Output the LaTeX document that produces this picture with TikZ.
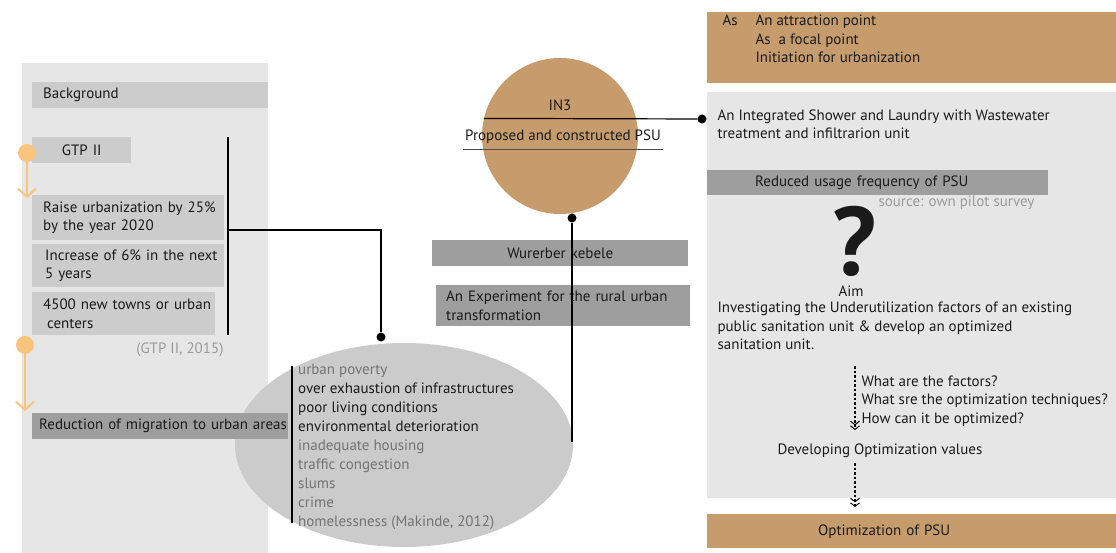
\documentclass[tikz,border=0pt]{standalone}
\usepackage{fontspec}
\setmainfont{PT Sans}
\usetikzlibrary{arrows.meta,shapes.geometric}
\definecolor{panelgrey}{HTML}{E6E6E6}
\definecolor{bargrey}{HTML}{CCCCCC}
\definecolor{deepgrey}{HTML}{9E9E9E}
\definecolor{ovalgrey}{HTML}{CBCBCB}
\definecolor{sand}{HTML}{C69C6D}
\definecolor{marigold}{HTML}{F8C47E}
\definecolor{softtext}{HTML}{737373}
\definecolor{paletext}{HTML}{9A9A9A}
\definecolor{inktext}{HTML}{1A1A1A}
\begin{document}
\begin{tikzpicture}[
	x=1pt, y=-1pt,
	every node/.style={font=\fontsize{15}{18.5}\selectfont, text=inktext},
	bar/.style={fill=bargrey, inner sep=0pt, anchor=north west, align=left},
	deepbar/.style={bar, fill=deepgrey},
	block/.style={inner sep=0pt, anchor=north west},
	dot/.style={circle, fill=black, inner sep=0pt, minimum size=9pt},
	sundot/.style={circle, fill=marigold, inner sep=0pt, minimum size=18pt},
	sunarrow/.style={draw=marigold, line width=2pt,
	-{Straight Barb[length=8pt,width=18pt,line width=2pt]}},
	flow/.style={draw=black, line width=1.1pt, dash pattern=on 2.5pt off 2pt,
	-{Straight Barb[length=3.5pt,width=9pt,line width=1pt]
	Straight Barb[length=3.5pt,width=9pt,line width=1pt]}},
	wire/.style={draw=black, line width=1.2pt},
	]
	\useasboundingbox (0,0) rectangle (1116,553);
	% left column
	\node[block, fill=panelgrey, minimum width=246pt, minimum height=490pt] (left panel) at (22,63) {};
	\node[bar, text width=236pt, minimum height=26pt] (background) at (32,82) {\hspace*{11pt}Background};
	\node[bar, align=center, text width=99pt, minimum height=26pt] (gtp) at (32,137) {GTP II};
	\node[bar, text width=192pt, minimum height=45pt] (raise) at (32,195) {\hspace*{11pt}Raise urbanization by 25\%\\\hspace*{11pt}by the year 2020};
	\node[bar, text width=192pt, minimum height=43pt] (increase) at (32,244) {\hspace*{13pt}Increase of 6\% in the next\\\hspace*{13pt}5 years};
	\node[bar, text width=183pt, minimum height=43pt] (towns) at (32,292) {\hspace*{11pt}4500 new towns or urban\\\hspace*{15pt}centers};
	\node[anchor=east, text=paletext] (gtp ref) at (227,350) {(GTP II, 2015)};
	\node[sundot] (sun one) at (27,153) {};
	\coordinate (sun one end) at (27,198);
	\draw[sunarrow] (sun one) -- (sun one end);
	\node[sundot] (sun two) at (25,345) {};
	\coordinate (sun two end) at (25,411);
	\draw[sunarrow] (sun two) -- (sun two end);
	% problems oval
	\node[ellipse, fill=ovalgrey, inner sep=0pt, minimum width=338pt, minimum height=204pt] (problems) at (404,445) {};
	\node[deepbar, text width=256pt, minimum height=26pt] (reduction) at (32,413) {\hspace*{7pt}Reduction of migration to urban areas};
	\coordinate (list top) at (292,366);
	\coordinate (list bottom) at (292,523);
	\draw[wire] (list top) -- (list bottom);
	\foreach \issue/\tone [count=\i from 0] in {urban poverty/softtext,
		over exhaustion of infrastructures/inktext, poor living conditions/inktext,
		environmental deterioration/inktext, inadequate housing/softtext,
		traffic congestion/softtext, slums/softtext, crime/softtext,
		{homelessness (Makinde, 2012)}/softtext}
	\node[anchor=base west, inner sep=0pt, text=\tone] (issue \i) at (298,374+19*\i) {\issue};
	% GTP spine
	\coordinate (spine top) at (228,137);
	\coordinate (spine bottom) at (228,335);
	\coordinate (spine mid) at (228,230);
	\draw[wire] (spine top) -- (spine bottom);
	\node[dot] (problems dot) at (381,337) {};
	\draw[wire] (spine mid) -| (problems dot);
	% PSU circle
	\node[circle, fill=sand, inner sep=0pt, minimum size=156pt] (psu) at (560,136) {};
	\node (in3) at (560,105) {IN3};
	\node (proposed) at (563,137) {Proposed and constructed PSU};
	\coordinate (under left) at (463,149);
	\coordinate (under right) at (663,149);
	\draw[draw=black!70, line width=0.9pt] (under left) -- (under right);
	\node[dot] (shower dot) at (702,119) {};
	\draw[wire] (psu.167.4) -- (shower dot);
	\node[deepbar, align=center, text width=256pt, minimum height=26pt] (kebele) at (432,240) {Wurerber kebele};
	\node[deepbar, text width=254pt, minimum height=41pt] (experiment) at (436,285) {\hspace*{10pt}An Experiment for the rural urban\\\hspace*{10pt}transformation};
	\node[dot] (psu dot) at (572,218) {};
	\coordinate (experiment end) at (572,442);
	\draw[wire] (psu dot) -- (experiment end);
	% right column
	\node[block, fill=sand, minimum width=409pt, minimum height=71pt] (roles) at (707,12) {};
	\node[anchor=west] (as) at (719,20) {As};
	\node[anchor=west, align=left] (role list) at (752,39) {An attraction point\\As\ \ a focal point\\Initiation for urbanization};
	\node[block, fill=panelgrey, minimum width=409pt, minimum height=406pt] (right panel) at (707,92) {};
	\node[anchor=west, align=left] (shower) at (714,124.5) {An Integrated Shower and Laundry with Wastewater\\treatment and infiltrarion unit};
	\node[deepbar, text width=341pt, minimum height=25pt] (reduced) at (707,170) {\hspace*{48pt}Reduced usage frequency of PSU};
	\node[anchor=west, text=paletext] (source) at (875,203) {source: own pilot survey};
	\node[font=\fontsize{97}{97}\selectfont\bfseries, inner sep=0pt, text depth=0pt, anchor=base] (query) at (855,276) {?};
	\node[inner sep=0pt, anchor=base] (aim) at (851,297) {Aim};
	\node[anchor=west, align=left] (aim text) at (714,326) {Investigating the Underutilization factors of an existing\\public sanitation unit \& develop an optimized\\sanitation unit.};
	\node[anchor=west, align=left] (questions) at (858,401) {What are the factors?\\What sre the optimization techniques?\\How can it be optimized?};
	\coordinate (ask top) at (855,366);
	\coordinate (ask end) at (855,430);
	\draw[flow] (ask top) -- (ask end);
	\node[anchor=west] (develop) at (774,451) {Developing Optimization values};
	\coordinate (develop foot) at (855,463);
	\coordinate (develop end) at (855,507);
	\draw[flow] (develop foot) -- (develop end);
	\node[block, fill=sand, minimum width=409pt, minimum height=34pt, text width=409pt, align=left] (optimization) at (707,514) {\hspace*{111pt}Optimization of PSU};
\end{tikzpicture}
\end{document}
